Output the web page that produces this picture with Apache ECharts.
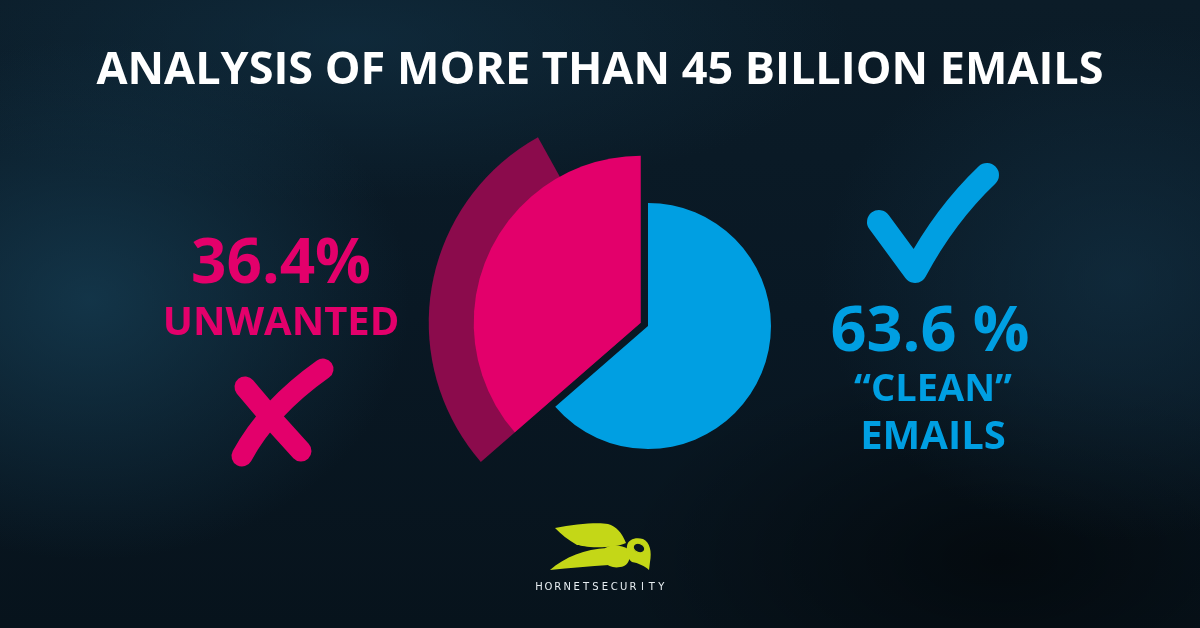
<!DOCTYPE html>
<html>
<head>
<meta charset="utf-8">
<script src="https://cdn.jsdelivr.net/npm/echarts@6/dist/echarts.min.js"></script>
<style>
html,body{margin:0;padding:0;}
#chart{width:1200px;height:628px;
background:
 radial-gradient(ellipse 320px 260px at 90px 300px, rgba(22,62,84,0.75), rgba(22,62,84,0) 100%),
 radial-gradient(ellipse 300px 260px at 1120px 280px, rgba(20,52,72,0.6), rgba(20,52,72,0) 100%),
 radial-gradient(ellipse 500px 160px at 350px 40px, rgba(18,50,70,0.6), rgba(18,50,70,0) 100%),
 radial-gradient(ellipse 380px 200px at 1000px 560px, rgba(0,0,0,0.5), rgba(0,0,0,0) 100%),
 linear-gradient(180deg,#0b1c28 0%,#091824 50%,#07131c 100%);}
</style>
</head>
<body>
<div id="chart"></div>
<script>
// ---- data ----
const title = 'ANALYSIS OF MORE THAN 45 BILLION EMAILS';
const categories = ['Unwanted', 'Clean'];
const values = [36.4, 63.6];
const unwantedLabel = 'UNWANTED';
const cleanLabels = ['\u201cCLEAN\u201d', 'EMAILS'];
const brand = 'HORNETSECURITY';

const PINK = '#e3006b', PINK_DARK = '#8b0b4c', BLUE = '#009fe2', LIME = '#c4d717';
const FONT = 'Open Sans';

const total = values[0] + values[1];
const blueCenter = [648, 326];
const pinkSpan = 360 * values[0] / total;
const pinkEndAngle = 90 + pinkSpan;
const mid = (90 + pinkEndAngle) / 2 * Math.PI / 180;
const off = 8;
const pinkCenter = [blueCenter[0] + off * Math.cos(mid), blueCenter[1] - off * Math.sin(mid)];

let shapeId = 0;
function pathEl(d, style, extra) {
  const name = 'decoShape' + (shapeId++);
  echarts.graphic.registerShape(name, echarts.graphic.extendPath(d, {}));
  return Object.assign({type: name, silent: true, style: style}, extra || {});
}

const chart = echarts.init(document.getElementById('chart'), null, {renderer: 'canvas'});

const graphics = [];
function txt(x, y, s, size, color, weight) {
  graphics.push({type: 'text', x: x, y: y, silent: true, z: 10,
    style: {text: s, fill: color, font: (weight || 'bold') + ' ' + size + 'px "' + FONT + '"',
      textAlign: 'center', textVerticalAlign: 'middle'}});
}
txt(600, 71, title, 45, '#ffffff');
txt(281, 265, values[0].toFixed(1) + '%', 62, PINK);
txt(281, 324, unwantedLabel, 40, PINK);
txt(930, 333, values[1].toFixed(1) + ' %', 63, BLUE);
txt(933, 390, cleanLabels[0], 38, BLUE);
txt(933, 438, cleanLabels[1], 40, BLUE);

// X mark
graphics.push(pathEl('M245 387 Q272 420 301 451', {fill: null, stroke: PINK, lineWidth: 21, lineCap: 'round'}));
graphics.push(pathEl('M323 369 Q268 408 242 456', {fill: null, stroke: PINK, lineWidth: 21, lineCap: 'round'}));
// check mark
graphics.push(pathEl('M879 222 L915 271 Q945 215 987 175', {fill: null, stroke: BLUE, lineWidth: 24, lineCap: 'round', lineJoin: 'round'}));

// logo
graphics.push(pathEl('M555 528 C575 524 598 522 608 524 C616 526 622 533 626 543 C618 547 600 548 590 547 C582 546 578 545 577 545 C568 540 561 534 555 528 Z', {fill: LIME}));
graphics.push(pathEl('M550 570 C565 557 585 549 607 548 L609 565 C590 566 570 568 550 570 Z', {fill: LIME}));
graphics.push(pathEl('M605 548 C612 544 622 545 628 549 C631 555 630 563 624 566 C616 569 608 567 605 562 Z', {fill: LIME}));
graphics.push(pathEl('M627 546 C628 539 636 537 643 539 C650 542 652 552 650 562 L649 570 C645 566 638 563 632 562 C627 558 626 552 627 546 Z', {fill: LIME}));
graphics.push({type: 'ellipse', silent: true, shape: {cx: 639, cy: 548, rx: 6, ry: 4.5},
  rotation: -0.4, originX: 639, originY: 548, style: {fill: '#0a1720', stroke: LIME, lineWidth: 1.2}});
for (let i = 0; i < brand.length; i++) {
  graphics.push({type: 'text', silent: true, x: 539 + i * 9.4, y: 587,
    style: {text: brand[i], fill: '#e8eef2', font: '10px "DejaVu Sans"', textAlign: 'center', textVerticalAlign: 'middle'}});
}

const common = {type: 'pie', silent: true, label: {show: false}, labelLine: {show: false},
  emphasis: {disabled: true}, animation: false, clockwise: true};

chart.setOption({
  backgroundColor: 'transparent',
  animation: false,
  series: [
    Object.assign({}, common, {
      name: 'pink-side', z: 1, center: pinkCenter, radius: [0, 212],
      startAngle: pinkEndAngle, endAngle: 119,
      data: [{name: categories[0], value: values[0], itemStyle: {color: PINK_DARK}}]
    }),
    Object.assign({}, common, {
      name: 'pink', z: 2, center: pinkCenter, radius: [0, 167], startAngle: 90,
      data: [
        {name: categories[1], value: values[1], itemStyle: {color: 'rgba(0,0,0,0)'}},
        {name: categories[0], value: values[0], itemStyle: {color: PINK}}
      ]
    }),
    Object.assign({}, common, {
      name: 'blue', z: 3, center: blueCenter, radius: [0, 123], startAngle: 90,
      data: [
        {name: categories[1], value: values[1], itemStyle: {color: BLUE}},
        {name: categories[0], value: values[0], itemStyle: {color: 'rgba(0,0,0,0)'}}
      ]
    })
  ],
  graphic: graphics
});
</script>
</body>
</html>
